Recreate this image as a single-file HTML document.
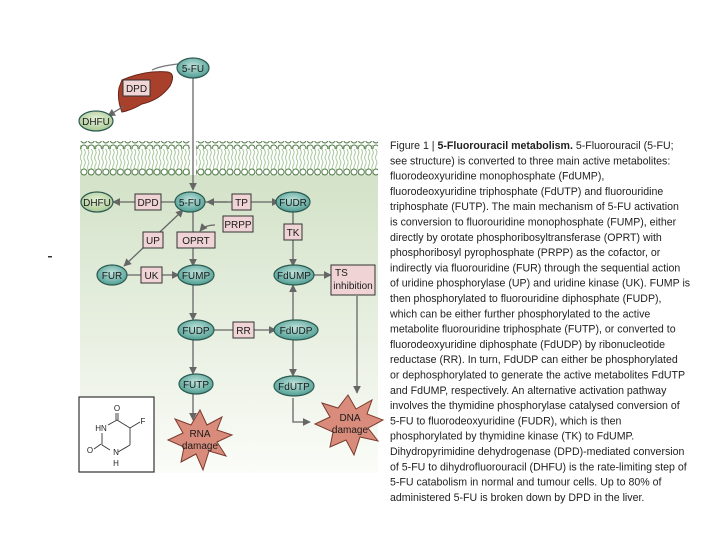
<!DOCTYPE html>
<html><head><meta charset="utf-8"><style>
html,body{margin:0;padding:0;background:#fff;width:720px;height:540px;overflow:hidden}
svg{display:block}
.n{font-family:"Liberation Sans",sans-serif;font-size:10px;fill:#1a1a1a;text-anchor:middle}
.c{font-family:"Liberation Sans",sans-serif;font-size:10.6px;fill:#222}
</style></head><body>
<svg width="720" height="540" viewBox="0 0 720 540">
<defs>
<linearGradient id="bg" x1="0" y1="0" x2="0" y2="1">
<stop offset="0" stop-color="#d3e2c8"/><stop offset="1" stop-color="#fbfcf8"/></linearGradient>
<radialGradient id="el" cx="0.5" cy="0.4" r="0.6">
<stop offset="0" stop-color="#bfe3dc"/><stop offset="1" stop-color="#4f9e93"/></radialGradient>
<radialGradient id="eg" cx="0.5" cy="0.4" r="0.6">
<stop offset="0" stop-color="#e6f2d8"/><stop offset="1" stop-color="#a9c995"/></radialGradient>
<pattern id="hd" width="7.3" height="8" patternUnits="userSpaceOnUse">
<circle cx="3.65" cy="4" r="3" fill="#fff" stroke="#4f7a45" stroke-width="1"/></pattern>
<pattern id="tl" width="3.6" height="20" patternUnits="userSpaceOnUse">
<path d="M1.8 0 q1.5 2.5 0 5 q-1.5 2.5 0 5 q1.5 2.5 0 5 q-1.5 2.5 0 5" fill="none" stroke="#9dc08e" stroke-width="0.9"/></pattern>
<marker id="a" viewBox="0 0 10 10" refX="9" refY="5" markerWidth="6" markerHeight="6" orient="auto">
<path d="M0 0L10 5L0 10z" fill="#666"/></marker>
</defs>
<rect x="80" y="175" width="298" height="298" fill="url(#bg)"/>
<rect x="80" y="145" width="110" height="30" fill="url(#tl)"/>
<rect x="196" y="145" width="182" height="30" fill="url(#tl)"/>
<rect x="80" y="141" width="110" height="8" fill="url(#hd)"/>
<rect x="80" y="168" width="110" height="8" fill="url(#hd)"/>
<rect x="196" y="141" width="182" height="8" fill="url(#hd)"/>
<rect x="196" y="168" width="182" height="8" fill="url(#hd)"/>
<path d="M122 80 Q145 70 168 72 Q176 74 170 86 Q160 100 142 104 Q132 110 122 112 Q117 100 119 88 Z" fill="#a8402c" stroke="#6a2418" stroke-width="1"/>
<rect x="123" y="80" width="27" height="16" fill="#f1d6d6" stroke="#333" stroke-width="1"/>
<text class="n" x="136.5" y="92">DPD</text>
<path d="M178 64 Q160 66 152 70" fill="none" stroke="#777" stroke-width="1.2"/>
<path d="M124 106 L108 116" fill="none" stroke="#666" stroke-width="1.3" marker-end="url(#a)"/>
<g stroke="#666" stroke-width="1.3" fill="none">
<line x1="193" y1="78" x2="193" y2="190" marker-end="url(#a)"/>
<line x1="176" y1="202" x2="113" y2="202" marker-end="url(#a)"/>
<line x1="204" y1="202" x2="279" y2="202" marker-end="url(#a)"/>
<line x1="228" y1="202" x2="207" y2="202" marker-end="url(#a)"/>
<line x1="181" y1="212" x2="124" y2="266" marker-end="url(#a)"/>
<line x1="181" y1="212" x2="183" y2="210" marker-end="url(#a)"/>
<line x1="193" y1="212" x2="193" y2="266" marker-end="url(#a)"/>
<path d="M215 225 Q205 225 200 231" marker-end="url(#a)"/>
<line x1="293" y1="212" x2="293" y2="266" marker-end="url(#a)"/>
<line x1="127" y1="275" x2="179" y2="275" marker-end="url(#a)"/>
<line x1="312" y1="275" x2="331" y2="275" marker-end="url(#a)"/>
<line x1="193" y1="285" x2="193" y2="320" marker-end="url(#a)"/>
<line x1="212" y1="330" x2="276" y2="330" marker-end="url(#a)"/>
<line x1="293" y1="320" x2="293" y2="285" marker-end="url(#a)"/>
<line x1="293" y1="340" x2="293" y2="376" marker-end="url(#a)"/>
<line x1="193" y1="340" x2="193" y2="374" marker-end="url(#a)"/>
<line x1="193" y1="394" x2="193" y2="420" marker-end="url(#a)"/>
<polyline points="293,398 293,422 310,422" marker-end="url(#a)"/>
<line x1="357" y1="296" x2="357" y2="393" marker-end="url(#a)"/>
</g>
<g stroke="#2d5a50" stroke-width="1.2">
<ellipse cx="193" cy="68" rx="16" ry="10" fill="url(#el)"/>
<ellipse cx="96" cy="121" rx="17" ry="10" fill="url(#eg)"/>
<ellipse cx="97" cy="202" rx="16" ry="10" fill="url(#eg)"/>
<ellipse cx="190" cy="202" rx="15" ry="10" fill="url(#el)"/>
<ellipse cx="293" cy="202" rx="17" ry="10" fill="url(#el)"/>
<ellipse cx="112" cy="275" rx="15" ry="10" fill="url(#el)"/>
<ellipse cx="196" cy="275" rx="18" ry="10" fill="url(#el)"/>
<ellipse cx="294" cy="275" rx="20" ry="10" fill="url(#el)"/>
<ellipse cx="196" cy="330" rx="18" ry="10" fill="url(#el)"/>
<ellipse cx="296" cy="330" rx="22" ry="10" fill="url(#el)"/>
<ellipse cx="196" cy="384" rx="17" ry="10" fill="url(#el)"/>
<ellipse cx="294" cy="386" rx="20" ry="10" fill="url(#el)"/>
</g>
<g>
<text class="n" x="193" y="72">5-FU</text>
<text class="n" x="96" y="125">DHFU</text>
<text class="n" x="97" y="206">DHFU</text>
<text class="n" x="190" y="206">5-FU</text>
<text class="n" x="293" y="206">FUDR</text>
<text class="n" x="112" y="279">FUR</text>
<text class="n" x="196" y="279">FUMP</text>
<text class="n" x="294" y="279">FdUMP</text>
<text class="n" x="196" y="334">FUDP</text>
<text class="n" x="296" y="334">FdUDP</text>
<text class="n" x="196" y="388">FUTP</text>
<text class="n" x="294" y="390">FdUTP</text>
</g>
<g fill="#efd3d5" stroke="#333" stroke-width="1">
<rect x="135" y="194" width="26" height="16"/>
<rect x="232" y="194" width="19" height="16"/>
<rect x="223" y="216" width="30" height="16"/>
<rect x="177" y="232" width="38" height="16"/>
<rect x="143" y="232" width="20" height="16"/>
<rect x="284" y="224" width="18" height="16"/>
<rect x="141" y="267" width="21" height="16"/>
<rect x="331" y="265" width="44" height="30"/>
<rect x="233" y="322" width="21" height="16"/>
</g>
<g>
<text class="n" x="148" y="206">DPD</text>
<text class="n" x="241.5" y="206">TP</text>
<text class="n" x="238" y="228">PRPP</text>
<text class="n" x="196" y="244">OPRT</text>
<text class="n" x="153" y="244">UP</text>
<text class="n" x="293" y="236">TK</text>
<text class="n" x="151.5" y="279">UK</text>
<text class="n" x="335" y="276" style="text-anchor:start">TS</text>
<text class="n" x="353" y="289">inhibition</text>
<text class="n" x="243.5" y="334">RR</text>
</g>
<path d="M200 410 L207 425 L222 417 L217 430 L232 435 L217 442 L226 456 L209 451 L203 470 L196 454 L181 462 L184 447 L168 440 L183 433 L175 419 L191 425 Z" fill="#d98c7c" stroke="#7a3a2c" stroke-width="1"/>
<text class="n" x="200" y="437">RNA</text>
<text class="n" x="200" y="449">damage</text>
<path d="M348 395 L356 409 L372 400 L367 414 L383 420 L368 428 L378 441 L360 437 L354 455 L346 440 L330 447 L333 432 L315 424 L330 417 L322 403 L338 408 Z" fill="#d98c7c" stroke="#7a3a2c" stroke-width="1"/>
<text class="n" x="350" y="421">DNA</text>
<text class="n" x="350" y="433">damage</text>
<rect x="79" y="397" width="75" height="75" fill="#fff" stroke="#333" stroke-width="1.2"/>
<g stroke="#333" stroke-width="0.9" fill="none">
<line x1="116" y1="413" x2="116" y2="420"/><line x1="118" y1="413" x2="118" y2="420"/>
<line x1="117" y1="420" x2="130" y2="428"/><line x1="130" y1="428" x2="130" y2="445"/>
<line x1="130" y1="428" x2="140" y2="422"/>
<line x1="130" y1="445" x2="118" y2="452"/>
<line x1="117" y1="420" x2="108" y2="425"/><line x1="102" y1="433" x2="102" y2="445"/>
<line x1="102" y1="445" x2="110" y2="450"/><line x1="101" y1="444" x2="94" y2="449"/>
</g>
<g font-family="Liberation Sans,sans-serif" font-size="8" fill="#222" text-anchor="middle">
<text x="117" y="411">O</text><text x="143" y="424">F</text><text x="101" y="431">HN</text>
<text x="90" y="453">O</text><text x="116" y="455">N</text><text x="116" y="466">H</text>
</g>
<g class="c">
<text x="390" y="149"><tspan>Figure 1 | </tspan><tspan font-weight="bold">5-Fluorouracil metabolism.</tspan> 5-Fluorouracil (5-FU;</text>
<text x="390" y="164.3">see structure) is converted to three main active metabolites:</text>
<text x="390" y="179.6">fluorodeoxyuridine monophosphate (FdUMP),</text>
<text x="390" y="194.9">fluorodeoxyuridine triphosphate (FdUTP) and fluorouridine</text>
<text x="390" y="210.2">triphosphate (FUTP). The main mechanism of 5-FU activation</text>
<text x="390" y="225.5">is conversion to fluorouridine monophosphate (FUMP), either</text>
<text x="390" y="240.8">directly by orotate phosphoribosyltransferase (OPRT) with</text>
<text x="390" y="256.1">phosphoribosyl pyrophosphate (PRPP) as the cofactor, or</text>
<text x="390" y="271.4">indirectly via fluorouridine (FUR) through the sequential action</text>
<text x="390" y="286.7">of uridine phosphorylase (UP) and uridine kinase (UK). FUMP is</text>
<text x="390" y="302">then phosphorylated to fluorouridine diphosphate (FUDP),</text>
<text x="390" y="317.3">which can be either further phosphorylated to the active</text>
<text x="390" y="332.6">metabolite fluorouridine triphosphate (FUTP), or converted to</text>
<text x="390" y="347.9">fluorodeoxyuridine diphosphate (FdUDP) by ribonucleotide</text>
<text x="390" y="363.2">reductase (RR). In turn, FdUDP can either be phosphorylated</text>
<text x="390" y="378.5">or dephosphorylated to generate the active metabolites FdUTP</text>
<text x="390" y="393.8">and FdUMP, respectively. An alternative activation pathway</text>
<text x="390" y="409.1">involves the thymidine phosphorylase catalysed conversion of</text>
<text x="390" y="424.4">5-FU to fluorodeoxyuridine (FUDR), which is then</text>
<text x="390" y="439.7">phosphorylated by thymidine kinase (TK) to FdUMP.</text>
<text x="390" y="455">Dihydropyrimidine dehydrogenase (DPD)-mediated conversion</text>
<text x="390" y="470.3">of 5-FU to dihydrofluorouracil (DHFU) is the rate-limiting step of</text>
<text x="390" y="485.6">5-FU catabolism in normal and tumour cells. Up to 80% of</text>
<text x="390" y="500.9">administered 5-FU is broken down by DPD in the liver.</text>
</g>
<rect x="48" y="256" width="4" height="1.5" fill="#333"/>
</svg>
</body></html>
